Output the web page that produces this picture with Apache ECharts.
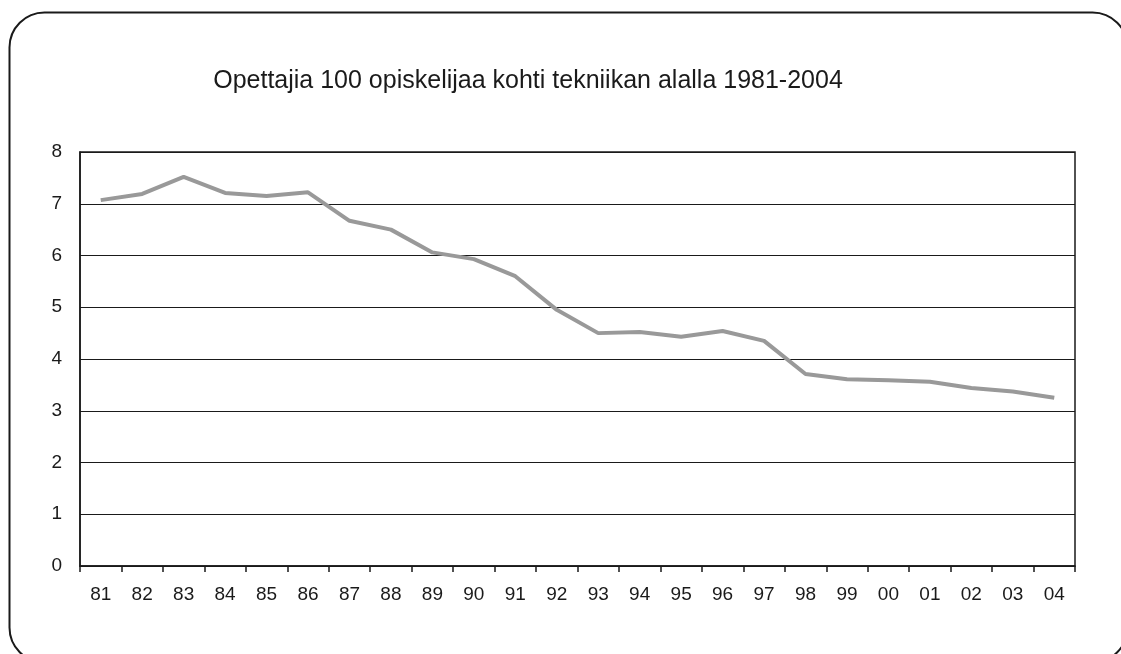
<!DOCTYPE html>
<html>
<head>
<meta charset="utf-8">
<style>
html,body{margin:0;padding:0;background:#fff;}
#c{width:1121px;height:654px;}
</style>
<script src="https://cdn.jsdelivr.net/npm/echarts@6/dist/echarts.min.js"></script>
</head>
<body>
<div id="c"></div>
<script>
const titleText = 'Opettajia 100 opiskelijaa kohti tekniikan alalla 1981-2004';
const years = ['81','82','83','84','85','86','87','88','89','90','91','92','93','94','95','96','97','98','99','00','01','02','03','04'];
const teachers = [7.07,7.19,7.52,7.21,7.15,7.22,6.67,6.5,6.06,5.93,5.6,4.95,4.5,4.52,4.43,4.54,4.35,3.71,3.61,3.59,3.56,3.44,3.37,3.25];
const yTicks = [0,1,2,3,4,5,6,7,8];

const chart = echarts.init(document.getElementById('c'), null, {renderer:'canvas'});
chart.setOption({
  animation:false,
  backgroundColor:'#fff',
  textStyle:{fontFamily:'Liberation Sans, Arial, sans-serif'},
  title:{
    text:titleText, left:523, top:64, textAlign:'center',
    textStyle:{fontSize:25, fontWeight:'normal', color:'#1a1a1a', fontFamily:'Liberation Sans, Arial, sans-serif'}
  },
  graphic:[{
    type:'rect', left:7, top:10, silent:true,
    shape:{width:1118, height:650, r:35},
    style:{fill:'none', stroke:'#1a1a1a', lineWidth:2}
  }],
  grid:{left:80, top:152, width:995, height:414, show:true, borderColor:'#1a1a1a', borderWidth:1.5, backgroundColor:'transparent'},
  xAxis:{
    type:'category', data:years, boundaryGap:true,
    axisLine:{lineStyle:{color:'#1a1a1a', width:1.5}},
    axisTick:{show:true, length:6, lineStyle:{color:'#1a1a1a', width:1.5}},
    axisLabel:{color:'#1a1a1a', fontSize:19, margin:19}
  },
  yAxis:{
    type:'value', min:yTicks[0], max:yTicks[yTicks.length-1], interval:1,
    axisLine:{show:true, lineStyle:{color:'#1a1a1a', width:1.5}},
    axisTick:{show:false},
    axisLabel:{color:'#1a1a1a', fontSize:19, margin:18},
    splitLine:{show:true, lineStyle:{color:'#1a1a1a', width:1.2}}
  },
  series:[{
    type:'line', data:teachers, symbol:'none',
    lineStyle:{color:'#999', width:4},
    itemStyle:{color:'#999'}
  }]
});
</script>
</body>
</html>
